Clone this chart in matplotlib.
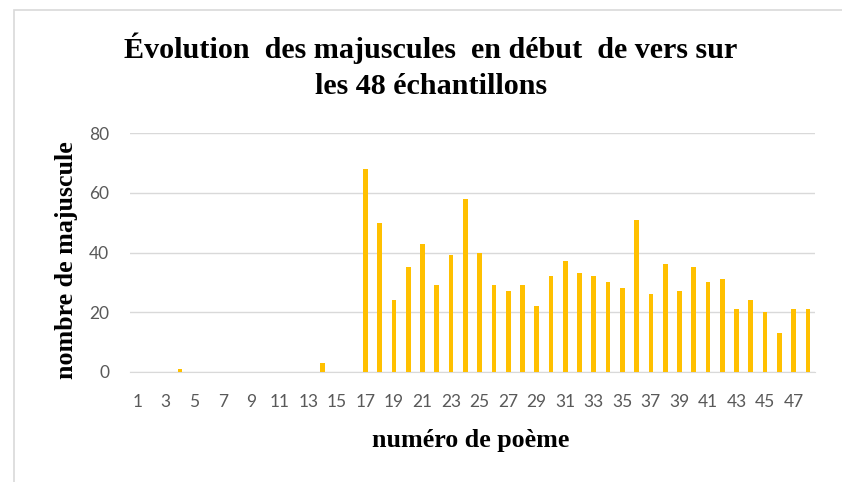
import matplotlib.pyplot as plt
from matplotlib.patches import Rectangle

# nombre de majuscules en début de vers, poèmes 1 à 48
poemes = list(range(1, 49))
majuscules = [0, 0, 0, 1, 0, 0, 0, 0, 0, 0, 0, 0, 0, 3, 0, 0,
              68, 50, 24, 35, 43, 29, 39, 58, 40, 29, 27, 29, 22, 32, 37, 33,
              32, 30, 28, 51, 26, 36, 27, 35, 30, 31, 21, 24, 20, 13, 21, 21]
ticks_y = [0, 20, 40, 60, 80]
ticks_x = list(range(1, 49, 2))

fig = plt.figure(figsize=(8.42, 4.82), dpi=100)
ax = fig.add_axes([130 / 842, 110 / 482, 685 / 842, 239 / 482])

ax.bar(poemes, majuscules, width=0.33, color='#FFC000', zorder=3)

ax.set_xlim(0.5, 48.5)
ax.set_ylim(0, 80)
ax.set_yticks(ticks_y)
ax.set_xticks(ticks_x)
ax.set_xticklabels([str(t) for t in ticks_x])
ax.grid(axis='y', color='#D9D9D9', linewidth=1, zorder=0)
for s in ['top', 'right', 'left']:
    ax.spines[s].set_visible(False)
ax.spines['bottom'].set_color('#D9D9D9')
ax.tick_params(length=0, labelsize=12.5, labelcolor='#595959', pad=16)
ax.tick_params(axis='y', pad=15)
for lab in ax.get_xticklabels() + ax.get_yticklabels():
    lab.set_family('Lato')

serif = dict(family='Liberation Serif', weight='bold', color='black')
fig.text(0.512, 1 - 48 / 482, 'Évolution  des majuscules  en début  de vers sur',
         ha='center', va='center', fontsize=21.7, **serif)
fig.text(0.512, 1 - 86 / 482, 'les 48 échantillons',
         ha='center', va='center', fontsize=21.7, **serif)
fig.text(66 / 842, 1 - 260 / 482, 'nombre de majuscule', rotation=90,
         ha='center', va='center', fontsize=18.7, **serif)
fig.text(471 / 842, 1 - 440 / 482, 'numéro de poème',
         ha='center', va='center', fontsize=18.7, **serif)

# cadre du graphique
fig.patches.append(Rectangle((14.5 / 842, -0.1), 1, 1 - 10 / 482 + 0.1,
                             transform=fig.transFigure, fill=False,
                             edgecolor='#D9D9D9', linewidth=1.2))

fig.savefig('out.png', dpi=100)
